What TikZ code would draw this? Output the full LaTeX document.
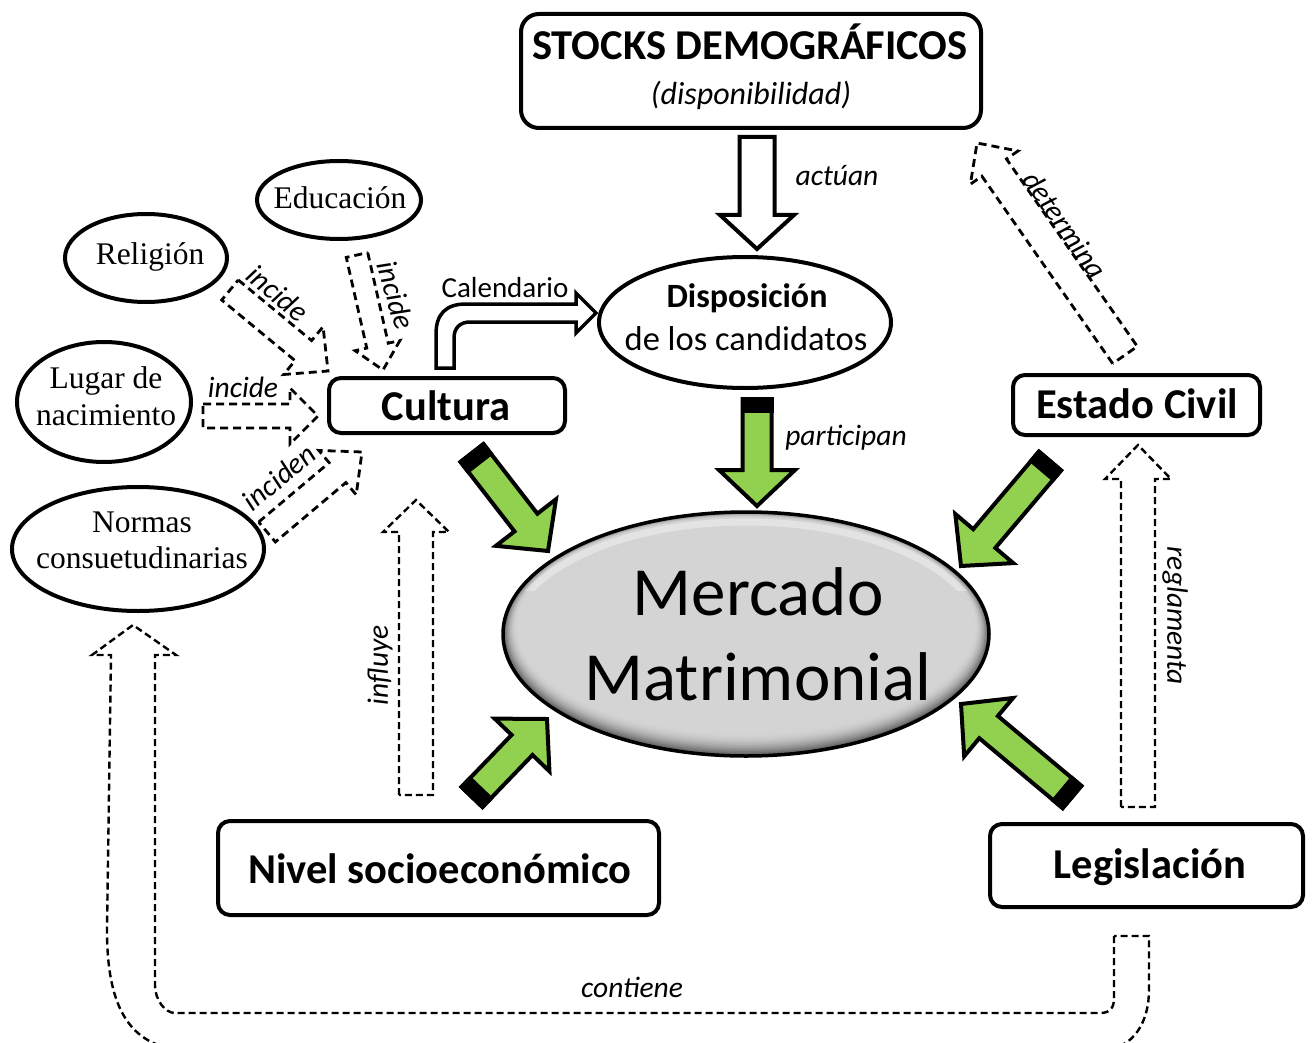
\documentclass[tikz,border=0pt]{standalone}
\usepackage{fontspec}
\newfontfamily\calib{Carlito}
\newfontfamily\serf{Liberation Serif}
\usetikzlibrary{calc,shapes.geometric}
\newcommand\setfs[1]{\fontsize{#1}{#1}\selectfont}
\definecolor{grn}{HTML}{92D050}
\tikzset{
 box/.style={draw, line width=4pt, rounded corners=12pt, fill=white, inner sep=0pt},
 oval/.style={draw, ellipse, line width=4pt, inner sep=0pt, fill=white},
 tb/.style={inner sep=0pt, anchor=base, font={\calib\bfseries\setfs{42.5}}},
 lab/.style={inner sep=0pt, anchor=base, font={\calib\itshape\setfs{29.5}}},
 rlab/.style={inner sep=0pt, anchor=center, font={\calib\itshape\setfs{29.5}}},
 ser/.style={inner sep=0pt, anchor=base, font={\serf\setfs{31.5}}},
 garrow/.style={draw, line width=4pt, fill=grn, line join=miter},
 hollow/.style={draw, line width=4pt, fill=white, line join=miter},
 dsh/.style={draw, line width=2.8pt, dash pattern=on 8pt off 5pt, line join=miter},
 dshthin/.style={draw, line width=2.4pt, dash pattern=on 7pt off 4pt, line join=miter},
}
\newcommand\blockarr[6]{%
 \coordinate (bA) at #2; \coordinate (bB) at #3;
 \coordinate (bH) at ($(bB)!#6!(bA)$);
 \path[#1] ($(bA)!#4!90:(bB)$) -- ($(bH)!#4!90:(bB)$) -- ($(bH)!#5!90:(bB)$) -- (bB) -- ($(bH)!#5!-90:(bB)$) -- ($(bH)!#4!-90:(bB)$) -- ($(bA)!#4!-90:(bB)$) -- cycle;}
\newcommand\greenarr[2]{%
 \blockarr{garrow}{#1}{#2}{14.5pt}{38pt}{36pt}
 \coordinate (bS) at ($(bA)!2pt!180:(bB)$);
 \coordinate (bT) at ($(bA)!14pt!(bB)$);
 \fill ($(bS)!16.5pt!90:(bB)$) -- ($(bT)!16.5pt!90:(bB)$) -- ($(bT)!16.5pt!-90:(bB)$) -- ($(bS)!16.5pt!-90:(bB)$) -- cycle;}
\begin{document}
\begin{tikzpicture}[x=1pt,y=-1pt]
\useasboundingbox (0,0) rectangle (1312,1043);

% dashed block arrows
\blockarr{dsh}{(230,290)}{(328,371)}{13pt}{31pt}{32pt}
\blockarr{dsh}{(357,255)}{(383,370)}{11pt}{23pt}{25pt}
\blockarr{dsh}{(203,416)}{(318,416)}{12pt}{28pt}{28pt}
\blockarr{dsh}{(267,532)}{(362,452)}{13pt}{29pt}{32pt}
\blockarr{dshthin}{(416,795)}{(416,500)}{17pt}{33pt}{32pt}
\blockarr{dshthin}{(1138,807)}{(1138,445)}{17pt}{33pt}{34pt}
\blockarr{dsh}{(1125,355)}{(977,143)}{15pt}{29pt}{30pt}
% contiene
\path[dshthin] (1114,936) -- (1114,998) .. controls (1114,1008) and (1110,1013) .. (1100,1013)
 -- (175,1013) .. controls (165,1013) and (155,1000) .. (155,985) -- (155,655) -- (176,655)
 -- (133,625) -- (92,655) -- (111,655) -- (107,930) .. controls (107,1000) and (125,1050) .. (190,1050)
 -- (1100,1050) .. controls (1135,1050) and (1149,1020) .. (1149,990) -- (1149,936) -- cycle;

% Mercado matrimonial
\foreach \i in {0,...,14}{
 \pgfmathsetmacro\c{17+48*(1-\i/14)^2}
 \fill[black!\c] (746,{634-0.6*\i}) ellipse [x radius={243-\i}, y radius={122-\i}];
}
\begin{scope}
 \clip (490,500) rectangle (1000,590);
 \draw[white, line width=7pt, opacity=0.35] (746,639) ellipse [x radius=237, y radius=117];
\end{scope}
\node[draw, ellipse, line width=3.5pt, inner sep=0pt, minimum width=486pt, minimum height=244pt] (mm) at (746,634) {};
\node[inner sep=0pt, anchor=base, font={\calib\setfs{69}}] (mm1) at (758,615) {Mercado};
\node[inner sep=0pt, anchor=base, font={\calib\setfs{69}}] (mm2) at (758,700) {Matrimonial};

% green arrows
\greenarr{(757,399)}{(757,506)}
\greenarr{(472,453)}{(548,551)}
\greenarr{(1050,461)}{(961,566)}
\greenarr{(472,797)}{(547,719)}
\greenarr{(1072,797)}{(961,704)}

% actuan hollow arrow
\blockarr{hollow}{(757,137)}{(757,249)}{17.5pt}{37pt}{34pt}
% Calendario bent arrow
\path[hollow, line width=3.5pt] (436,368) -- (436,334) .. controls (436,314) and (446,304) .. (466,304)
 -- (576,304) -- (576,293) -- (596,313) -- (576,333) -- (576,322) -- (470,322)
 .. controls (460,322) and (454,328) .. (454,338) -- (454,368) -- cycle;

% boxes
\node[box, rounded corners=18pt, minimum width=460pt, minimum height=114pt] (stocks) at (751,71) {};
\node[box, minimum width=236pt, minimum height=55pt] (cultura) at (447,405.5) {};
\node[box, minimum width=247pt, minimum height=60pt] (estado) at (1136.5,405) {};
\node[box, minimum width=441pt, minimum height=94pt] (nivel) at (438.5,868) {};
\node[box, minimum width=313pt, minimum height=83pt] (legis) at (1146.5,865.5) {};

% ellipses
\node[oval, minimum width=292pt, minimum height=131pt] (disp) at (745,322.5) {};
\node[oval, minimum width=164pt, minimum height=78pt] (educ) at (339,200) {};
\node[oval, minimum width=162pt, minimum height=88pt] (relig) at (146,258) {};
\node[oval, minimum width=174pt, minimum height=120pt] (lugar) at (104,402) {};
\node[oval, minimum width=252pt, minimum height=124pt] (normas) at (138,549) {};

% texts
\node[tb] (t1) at (750,60) {STOCKS DEMOGRÁFICOS};
\node[lab, font={\calib\itshape\setfs{32}}] (t2) at (751,105) {(disponibilidad)};
\node[tb] (t3) at (446,420) {Cultura};
\node[tb] (t4) at (1137,418) {Estado Civil};
\node[tb] (t5) at (440,883) {Nivel socioeconómico};
\node[tb] (t6) at (1150,878) {Legislación};
\node[inner sep=0pt, anchor=base, font={\calib\bfseries\setfs{34}}] (t7) at (747,307) {Disposición};
\node[inner sep=0pt, anchor=base, font={\calib\setfs{34.5}}] (t8) at (746,350) {de los candidatos};
\node[inner sep=0pt, anchor=base, font={\calib\setfs{29}}] (t9) at (505,298) {Calendario};
\node[lab] (l1) at (837,186) {actúan};
\node[lab] (l2) at (846,445) {participan};
\node[lab] (l3) at (632,997) {contiene};
\node[lab] (l4) at (243,397) {incide};
\node[rlab, rotate=-90] (l5) at (1175,616) {reglamenta};
\node[rlab, rotate=90] (l6) at (380,665) {influye};
\node[rlab, rotate=-55] (l7) at (1065,225) {determina};
\node[rlab, rotate=-40] (l8) at (278,293) {incide};
\node[rlab, rotate=-74] (l9) at (396,295) {incide};
\node[rlab, rotate=40] (l10) at (279,477) {inciden};

\node[ser] (s1) at (340,209) {Educación};
\node[ser] (s2) at (150,265) {Religión};
\node[ser] (s3) at (106,388) {Lugar de};
\node[ser] (s4) at (106,425) {nacimiento};
\node[ser] (s5) at (142,532) {Normas};
\node[ser] (s6) at (142,568) {consuetudinarias};
\end{tikzpicture}
\end{document}
